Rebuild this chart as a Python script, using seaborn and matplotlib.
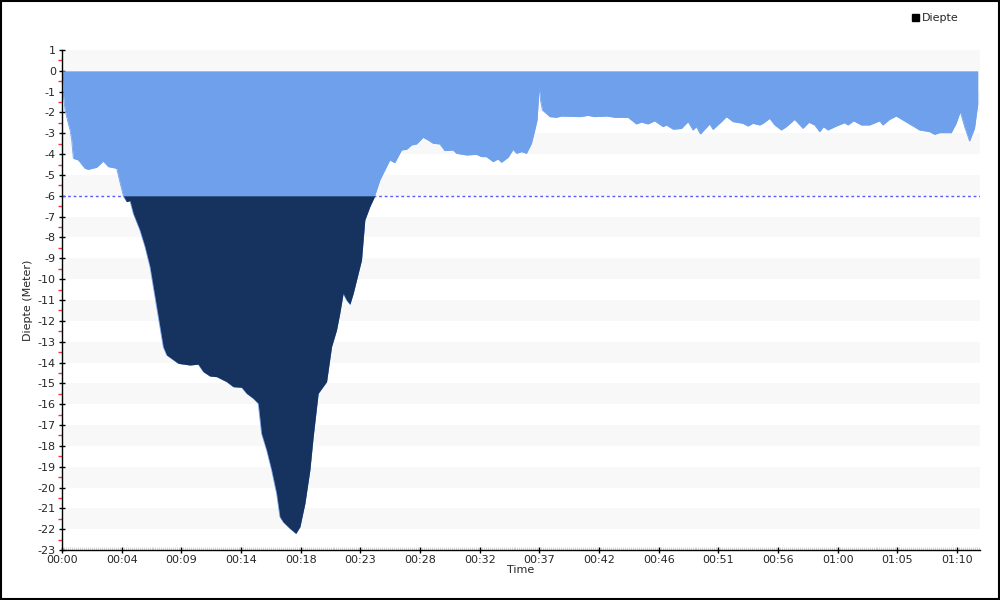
import numpy as np
import pandas as pd
import matplotlib.pyplot as plt
import seaborn as sns
from matplotlib.patches import Rectangle, Patch

# dive profile (time in minutes, depth in meters)
minutes = [0.00, 0.10, 0.24, 0.49, 0.63, 0.76, 0.89, 1.28, 1.80, 2.06, 2.72, 3.24, 3.63,
           4.29, 4.41, 4.81, 5.07, 5.33, 5.59, 6.11, 6.51, 6.90, 7.16, 7.42, 7.68, 7.94,
           8.21, 9.12, 10.03, 10.68, 11.08, 11.60, 12.13, 12.91, 13.43, 14.09, 14.48,
           15.00, 15.39, 15.65, 16.05, 16.44, 16.83, 17.09, 17.35, 17.87, 18.34, 18.66,
           19.05, 19.44, 19.70, 20.09, 20.75, 20.88, 21.14, 21.53, 21.79, 22.05, 22.32,
           22.58, 22.84, 23.49, 23.75, 24.14, 24.54, 24.93, 25.32, 25.71, 26.10, 26.63,
           27.02, 27.41, 27.81, 28.32, 28.71, 29.11, 29.63, 30.02, 30.67, 30.94, 31.72,
           32.51, 32.90, 33.29, 33.81, 34.20, 34.47, 34.99, 35.38, 35.65, 36.04, 36.43,
           36.82, 37.08, 37.26, 37.42, 37.53, 37.68, 38.26, 38.78, 39.17, 40.61, 41.26,
           41.78, 42.70, 43.35, 44.39, 45.05, 45.44, 45.96, 46.48, 47.14, 47.40, 47.92,
           48.58, 49.10, 49.49, 49.75, 50.07, 50.80, 51.06, 51.72, 52.11, 52.63, 53.41,
           53.80, 54.19, 54.72, 54.98, 55.50, 55.90, 56.42, 56.81, 57.46, 58.11, 58.58,
           59.03, 59.42, 59.73, 60.07, 60.73, 61.38, 61.64, 62.09, 62.69, 63.34, 64.13,
           64.38, 64.91, 65.43, 65.95, 66.74, 67.26, 68.04, 68.44, 68.83, 69.74, 70.13,
           70.45, 70.79, 71.18, 71.57, 71.83]
depth = [0.00, -1.08, -1.88, -2.52, -2.84, -3.32, -4.20, -4.28, -4.68, -4.73, -4.63, -4.33,
         -4.60, -4.68, -5.00, -6.00, -6.28, -6.23, -6.84, -7.64, -8.44, -9.40, -10.36,
         -11.32, -12.28, -13.24, -13.64, -14.04, -14.12, -14.08, -14.44, -14.65, -14.68,
         -14.92, -15.16, -15.19, -15.48, -15.72, -15.96, -17.40, -18.20, -19.16, -20.28,
         -21.40, -21.65, -21.96, -22.20, -21.88, -20.76, -19.16, -17.56, -15.48, -14.92,
         -14.36, -13.24, -12.44, -11.62, -10.68, -11.00, -11.20, -10.68, -9.08, -7.16,
         -6.52, -5.96, -5.24, -4.76, -4.28, -4.41, -3.80, -3.77, -3.56, -3.51, -3.19,
         -3.32, -3.48, -3.51, -3.83, -3.80, -3.96, -4.04, -4.01, -4.12, -4.12, -4.36,
         -4.23, -4.39, -4.15, -3.77, -3.96, -3.88, -3.96, -3.48, -2.84, -2.36, -0.76,
         -1.40, -1.88, -2.20, -2.23, -2.17, -2.20, -2.14, -2.20, -2.17, -2.23, -2.23,
         -2.55, -2.46, -2.55, -2.40, -2.68, -2.60, -2.80, -2.77, -2.44, -2.84, -2.68,
         -3.03, -2.55, -2.81, -2.44, -2.20, -2.44, -2.52, -2.65, -2.52, -2.60, -2.52,
         -2.28, -2.60, -2.84, -2.68, -2.33, -2.76, -2.47, -2.60, -2.92, -2.68, -2.84,
         -2.65, -2.49, -2.60, -2.40, -2.60, -2.60, -2.40, -2.60, -2.33, -2.17, -2.36,
         -2.65, -2.84, -2.92, -3.05, -2.97, -2.97, -2.52, -1.96, -2.68, -3.37, -2.76,
         -1.56]

tick_labels = ["00:00", "00:04", "00:09", "00:14", "00:18", "00:23", "00:28", "00:32",
               "00:37", "00:42", "00:46", "00:51", "00:56", "01:00", "01:05", "01:10"]
tick_step = 4.68  # minutes between labelled ticks
limit_depth = -6

df = pd.DataFrame({"Time": minutes, "Diepte": depth})

sns.set_style("white")
plt.rcParams['font.family'] = ['DejaVu Sans']

fig = plt.figure(figsize=(10, 6), dpi=100)
ax = fig.add_axes([0.062, 0.0833, 0.918, 0.8334])

# alternating background bands
for top in range(1, -23, -2):
    ax.axhspan(top - 1, top, color="#f8f8f8", lw=0, zorder=0)

ax.axhline(limit_depth, color="#5a5aff", lw=1, ls=(0, (2, 2)), zorder=1)

t = df["Time"].to_numpy()
d = df["Diepte"].to_numpy()
ax.fill_between(t, 0, d, color="#6fa0ec", lw=0, zorder=2)
ax.fill_between(t, limit_depth, np.minimum(d, limit_depth), color="#16325f", lw=0, zorder=3)
sns.lineplot(data=df, x="Time", y="Diepte", ax=ax, color="#6fa0ec", lw=0.6, zorder=2)

ax.set_xlim(0, 72.0)
ax.set_ylim(-23, 1)
ax.set_xticks([i * tick_step for i in range(len(tick_labels))])
ax.set_xticklabels(tick_labels)
ax.set_xticks(np.arange(0, 72.0, tick_step / 30), minor=True)
ax.set_yticks(range(-23, 2))
ax.set_yticklabels([str(v) for v in range(-23, 2)])
ax.set_yticks(np.arange(-22.5, 1, 1), minor=True)

ax.tick_params(axis="x", which="both", bottom=True)
ax.tick_params(axis="y", which="both", left=True)
ax.tick_params(axis="both", which="major", labelsize=8, length=5, width=1, color="black",
               direction="inout", pad=1)
ax.tick_params(axis="y", which="major", pad=2)
ax.tick_params(axis="x", which="minor", length=2, width=0.6, color="#cccccc", direction="in")
ax.tick_params(axis="y", which="minor", length=3, width=1, color="#ff3333", direction="out")

for side in ["top", "right"]:
    ax.spines[side].set_visible(False)
for side in ["left", "bottom"]:
    ax.spines[side].set_color("black")
    ax.spines[side].set_linewidth(1)

ax.set_xlabel("Time", fontsize=8, labelpad=0)
ax.set_ylabel("Diepte (Meter)", fontsize=8, labelpad=3)

ax.legend(handles=[Patch(color="black", label="Diepte")], loc="upper left",
          bbox_to_anchor=(0.902, 0.995), bbox_transform=fig.transFigure, frameon=False,
          fontsize=8, handlelength=0.6, handleheight=0.6, handletextpad=0.3)

fig.patches.append(Rectangle((0.001, 0.0015), 0.998, 0.997, transform=fig.transFigure,
                             fill=False, edgecolor="black", lw=1.5))

fig.savefig("out.png", dpi=100)
